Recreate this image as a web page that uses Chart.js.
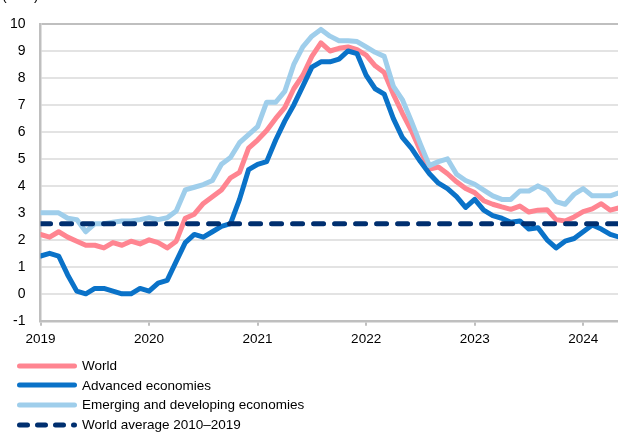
<!DOCTYPE html>
<html>
<head>
<meta charset="utf-8">
<script src="https://cdn.jsdelivr.net/npm/chart.js@4.4.1/dist/chart.umd.min.js"></script>
<style>
body { margin: 0; background: #fff; font-family: "Liberation Sans", Arial, sans-serif; }
#wrap { position: relative; width: 618px; height: 432px; overflow: hidden; }
#unit { position: absolute; left: 2px; top: -13px; font-size: 14px; line-height: 16px; color: #000; }
#legend { position: absolute; left: 17px; top: 356px; font-size: 13.5px; color: #000; }
.row { height: 19.6px; display: flex; align-items: center; white-space: nowrap; }
.row svg { margin-right: 5px; flex: none; }
</style>
</head>
<body>
<div id="wrap">
  <canvas id="chart1" width="618" height="432"></canvas>
  <div id="unit">(in %)</div>
  <div id="legend"></div>
</div>
<script>
// monthly values, Jan 2019 .. May 2024
const yearLabels = ['2019', '2020', '2021', '2022', '2023', '2024'];
const yearTicks = [0, 12, 24, 36, 48, 60];

const world = [
  2.2, 2.1, 2.3, 2.1, 1.95, 1.8, 1.8, 1.7, 1.9, 1.8, 1.95, 1.85,
  2.0, 1.9, 1.7, 1.95, 2.8, 2.95, 3.35, 3.6, 3.85, 4.3, 4.5, 5.4,
  5.7, 6.05, 6.5, 6.9, 7.6, 8.1, 8.8, 9.3, 9.0, 9.1, 9.15, 9.05,
  8.85, 8.45, 8.2, 7.4, 6.7, 6.05, 5.3, 4.62, 4.7, 4.45, 4.15, 3.9,
  3.75, 3.45, 3.32, 3.22, 3.13, 3.25, 3.03, 3.1, 3.12, 2.75, 2.7, 2.85,
  3.05, 3.15, 3.34, 3.1, 3.19
];
const advanced = [
  1.4, 1.5, 1.4, 0.7, 0.1, 0.0, 0.2, 0.2, 0.1, 0.0, 0.0, 0.2,
  0.1, 0.4, 0.5, 1.2, 1.9, 2.2, 2.1, 2.3, 2.5, 2.6, 3.5, 4.6,
  4.8, 4.9, 5.7, 6.4, 7.0, 7.7, 8.4, 8.6, 8.6, 8.7, 9.0, 8.9,
  8.1, 7.6, 7.4, 6.5, 5.8, 5.4, 4.9, 4.45, 4.1, 3.9, 3.6, 3.2,
  3.5, 3.1, 2.9, 2.8, 2.65, 2.7, 2.4, 2.45, 2.0, 1.7, 1.95, 2.05,
  2.3, 2.55, 2.4, 2.2, 2.1
];
const emerging = [
  3.0, 3.0, 3.0, 2.8, 2.75, 2.3, 2.6, 2.6, 2.65, 2.7, 2.7, 2.75,
  2.82, 2.75, 2.82, 3.07, 3.85, 3.95, 4.05, 4.2, 4.8, 5.05, 5.6, 5.9,
  6.2, 7.1, 7.1, 7.5, 8.5, 9.15, 9.55, 9.8, 9.55, 9.38, 9.38, 9.35,
  9.15, 8.95, 8.8, 7.7, 7.2, 6.4, 5.55, 4.75, 4.9, 5.0, 4.43, 4.2,
  4.06, 3.84, 3.63, 3.5, 3.5, 3.81, 3.81, 4.0, 3.84, 3.42, 3.32, 3.69,
  3.9, 3.63, 3.63, 3.63, 3.75
];
const worldAvg = 2.6;

function toXY(arr) {
  return arr.map((v, i) => ({x: i, y: v}));
}

Chart.defaults.font.family = '"Liberation Sans", Arial, sans-serif';
Chart.defaults.font.size = 13.5;
Chart.defaults.color = '#000';

const datasets = [
  {label: 'World', data: toXY(world), borderColor: '#FF8591', borderWidth: 5, order: 4},
  {label: 'Advanced economies', data: toXY(advanced), borderColor: '#0A72C8', borderWidth: 5, order: 3},
  {label: 'Emerging and developing economies', data: toXY(emerging), borderColor: '#9FCEEB', borderWidth: 5, order: 2},
  {label: 'World average 2010\u20132019', data: [{x: 0, y: worldAvg}, {x: world.length - 1, y: worldAvg}],
   borderColor: '#002F6F', borderWidth: 5, borderDash: [10, 11], order: 1}
];

const config = {
  type: 'line',
  data: {datasets: datasets},
  options: {
    responsive: false,
    animation: false,
    layout: {padding: {left: -5, top: 24, right: 0, bottom: 80}},
    elements: {
      point: {radius: 0},
      line: {tension: 0, borderCapStyle: 'round', borderJoinStyle: 'round', fill: false}
    },
    plugins: {legend: {display: false}, tooltip: {enabled: false}},
    scales: {
      x: {
        type: 'linear',
        min: 0,
        max: 63.85,
        afterBuildTicks: (scale) => { scale.ticks = yearTicks.map(v => ({value: v})); },
        ticks: {
          padding: 5,
          maxRotation: 0,
          autoSkip: false,
          callback: (v) => yearLabels[yearTicks.indexOf(v)]
        },
        grid: {drawOnChartArea: false, drawTicks: true, tickLength: 5, color: '#BFBFBF', lineWidth: 2},
        border: {color: '#BFBFBF', width: 2.5}
      },
      y: {
        min: -1,
        max: 10,
        ticks: {stepSize: 1, padding: 15, font: {size: 14}},
        grid: {
          drawTicks: false,
          lineWidth: 2,
          color: (c) => c.tick.value === 10 ? '#BFBFBF' : '#E3E3E3'
        },
        border: {color: '#BFBFBF', width: 2.5}
      }
    }
  }
};

const chart1 = new Chart(document.getElementById('chart1'), config);

// legend built from the datasets, one row each
const legendBox = document.getElementById('legend');
datasets.forEach(ds => {
  const row = document.createElement('div');
  row.className = 'row';
  const dash = ds.borderDash ? ' stroke-dasharray="8 10"' : '';
  row.innerHTML = '<svg width="60" height="8"><line x1="2.5" y1="4" x2="57.5" y2="4" stroke="' + ds.borderColor +
    '" stroke-width="5" stroke-linecap="round"' + dash + '/></svg><span>' + ds.label + '</span>';
  legendBox.appendChild(row);
});
</script>
</body>
</html>
